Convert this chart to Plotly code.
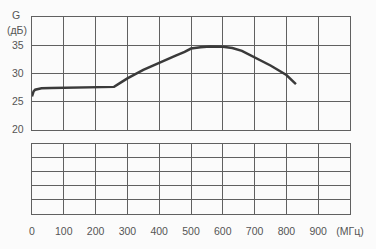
import plotly.graph_objects as go
from plotly.subplots import make_subplots

freq_mhz = [0, 2, 5, 10, 18, 30, 60, 100, 150, 200, 258, 280, 300, 350, 400, 450, 480, 500, 530, 560, 600, 630, 660, 700, 750, 800, 830]
gain_db = [25.9, 26.4, 26.8, 27.1, 27.25, 27.35, 27.4, 27.45, 27.5, 27.5, 27.6, 28.4, 29.1, 30.6, 31.9, 33.1, 33.8, 34.4, 34.65, 34.75, 34.7, 34.5, 34.0, 32.9, 31.4, 29.7, 28.1]

x_tickvals = [0, 100, 200, 300, 400, 500, 600, 700, 800, 900, 1000]
x_ticktext = ["0", "100", "200", "300", "400", "500", "600", "700", "800", "900", "(МГц)"]
y_tickvals = [20, 25, 30, 35]
y_ticktext = ["20", "25", "30", "35"]

W, H = 376, 249
L, R, T, B = 29, 15, 17, 20
ph = H - T - B

def py(p):
    return (H - B - p) / ph

grid = "#606060"
txt = "#555555"

fig = make_subplots(rows=2, cols=1, shared_xaxes=False)
fig.add_trace(go.Scatter(x=freq_mhz, y=gain_db, mode="lines",
                         line=dict(color="#3a3a3a", width=2.5),
                         showlegend=False, hoverinfo="skip"), row=1, col=1)
fig.add_trace(go.Scatter(x=[0, 1000], y=[0, 5], mode="markers", marker=dict(opacity=0),
                         showlegend=False, hoverinfo="skip"), row=2, col=1)

ax_common = dict(showgrid=True, gridcolor=grid, gridwidth=1.4, showline=True, linecolor=grid,
                 linewidth=1.4, mirror=True, zeroline=False, ticks="")

fig.update_layout(
    width=W, height=H,
    margin=dict(l=L, r=R, t=T, b=B),
    paper_bgcolor="#fbfbfb", plot_bgcolor="#fbfbfb",
    font=dict(family="Liberation Sans", size=10.5, color=txt),
    xaxis=dict(domain=[0, 1], range=[0, 1000], tickvals=x_tickvals, showticklabels=False, **ax_common),
    yaxis=dict(domain=[py(138.3), 1], range=[20, 40], tickvals=y_tickvals, ticktext=y_ticktext,
               ticklabelstandoff=5, **ax_common),
    xaxis2=dict(domain=[0, 1], range=[0, 1000], tickvals=x_tickvals, ticktext=x_ticktext,
                ticklabelstandoff=7, **ax_common),
    yaxis2=dict(domain=[0, py(153.3)], range=[0, 5], dtick=1, showticklabels=False, **ax_common),
)

fig.add_annotation(text="G", xref="paper", yref="paper", x=(12.5 - L) / (W - L - R), y=py(15),
                   showarrow=False, xanchor="center", yanchor="middle", font=dict(size=10.5, color=txt))
fig.add_annotation(text="(дБ)", xref="paper", yref="paper", x=(13 - L) / (W - L - R), y=py(31),
                   showarrow=False, xanchor="center", yanchor="middle", font=dict(size=10.5, color=txt))

fig.write_html("out.html")
